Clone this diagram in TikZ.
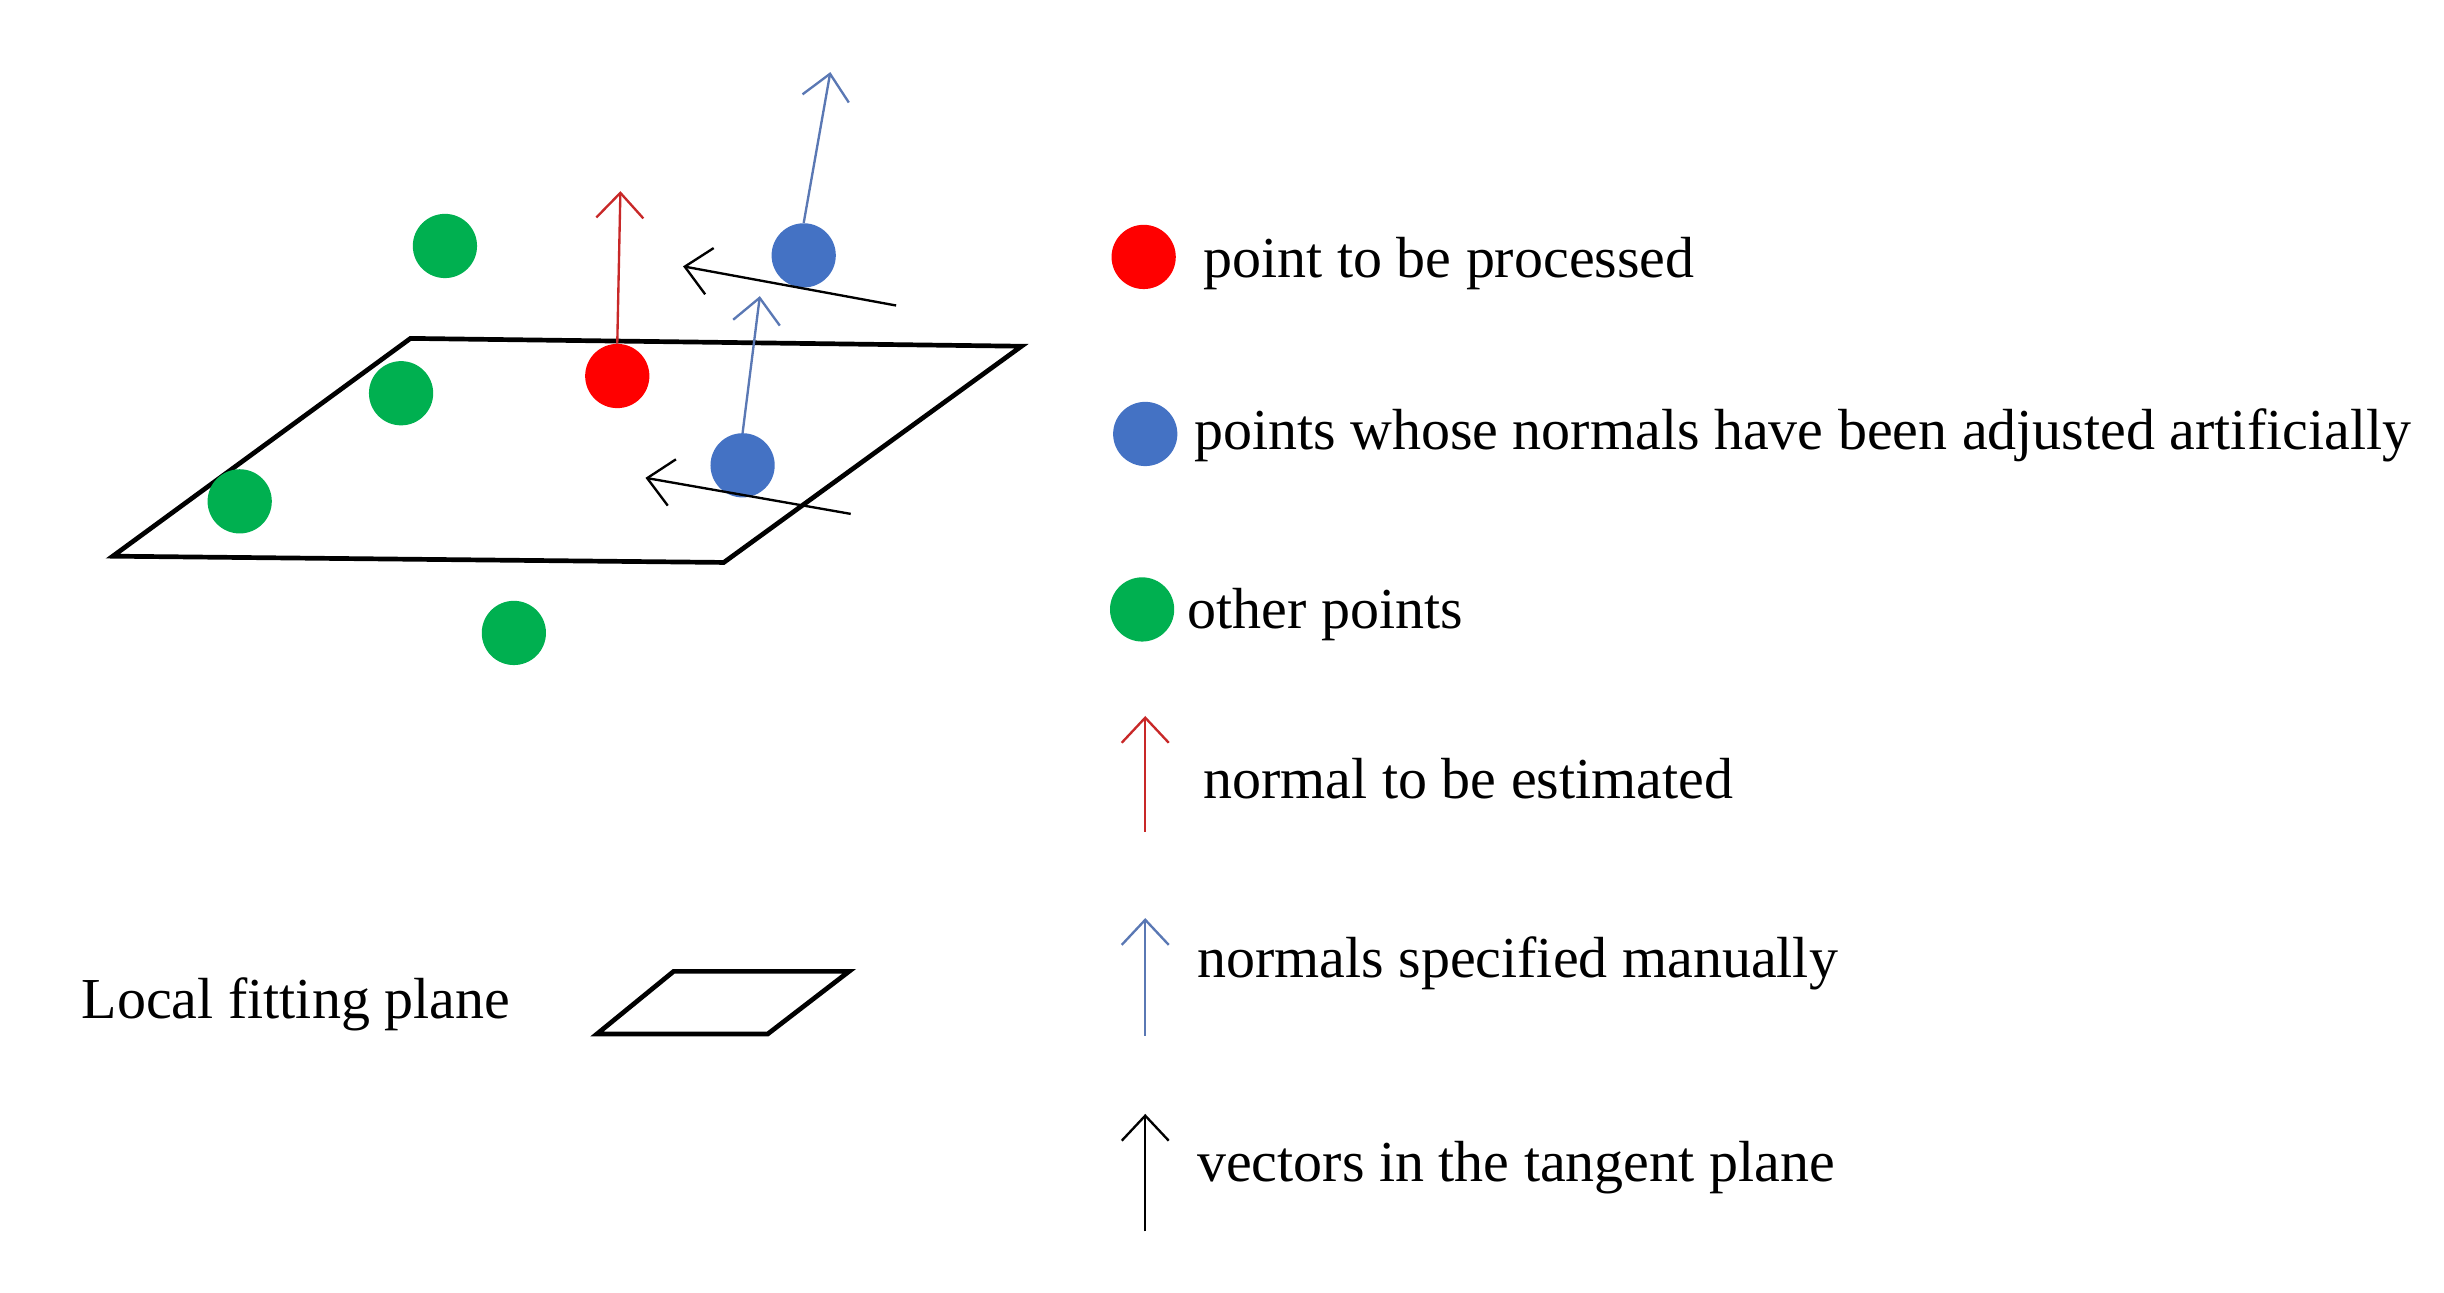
\documentclass[tikz,border=0pt]{standalone}
\usepackage{fontspec}
\setmainfont{Liberation Serif}
\usetikzlibrary{arrows.meta}
\definecolor{gr}{RGB}{0,176,80}
\definecolor{bl}{RGB}{68,114,196}
\definecolor{rd}{RGB}{255,0,0}
\definecolor{rdl}{RGB}{200,40,40}
\definecolor{bll}{RGB}{90,120,180}
\begin{document}
\begin{tikzpicture}[x=1pt,y=-1pt,
  dot/.style={circle,minimum size=41pt,inner sep=0pt},
  vec/.style={line width=1.5pt,-{Straight Barb[length=16pt,width=30pt,line width=1.5pt]}},
  lbl/.style={anchor=west,font=\fontsize{37}{39}\selectfont,inner sep=0pt},
  plane/.style={line width=3pt,line join=miter}]
\useasboundingbox (0,0) rectangle (1560,825);
\draw[plane] (262,216)--(652,221)--(462,359)--(72,355)--cycle;
\node[dot,fill=gr] (g1) at (284,157) {};
\node[dot,fill=gr] (g2) at (256,251) {};
\node[dot,fill=gr] (g3) at (153,320) {};
\node[dot,fill=gr] (g4) at (328,404) {};
\node[dot,fill=rd] (r) at (394,240) {};
\coordinate (rt) at (396,122);
\draw[vec,rdl] (r.north) -- (rt);
\node[dot,fill=bl] (b1) at (513,163) {};
\coordinate (b1t) at (530,46);
\draw[vec,bll] (b1.north) -- (b1t);
\node[dot,fill=bl] (b2) at (474,297) {};
\coordinate (b2t) at (485,189);
\draw[vec,bll] (b2.north) -- (b2t);
\coordinate (t1s) at (572,195); \coordinate (t1e) at (436,170);
\draw[vec,black] (t1s) -- (t1e);
\coordinate (t2s) at (543,328); \coordinate (t2e) at (412,305);
\draw[vec,black] (t2s) -- (t2e);
% legend
\node[dot,fill=rd] (lr) at (730,164) {};
\node[lbl] (tr) at (768,168) {point to be processed};
\node[dot,fill=bl] (lb) at (731,277) {};
\node[lbl] (tb) at (762,278) {points whose normals have been adjusted artificially};
\node[dot,fill=gr] (lg) at (729,389) {};
\node[lbl] (tg) at (758,392) {other points};
\coordinate (a1s) at (731,531); \coordinate (a1e) at (731,457);
\draw[vec,rdl] (a1s) -- (a1e);
\node[lbl] (ta1) at (768,497) {normal to be estimated};
\coordinate (a2s) at (731,661); \coordinate (a2e) at (731,586);
\draw[vec,bll] (a2s) -- (a2e);
\node[lbl] (ta2) at (764,615) {normals specified manually};
\coordinate (a3s) at (731,786); \coordinate (a3e) at (731,711);
\draw[vec,black] (a3s) -- (a3e);
\node[lbl] (ta3) at (764,745) {vectors in the tangent plane};
\node[lbl] (tp) at (52,641) {Local fitting plane};
\draw[plane] (430,620)--(542,620)--(490,660)--(381,660)--cycle;
\end{tikzpicture}
\end{document}
